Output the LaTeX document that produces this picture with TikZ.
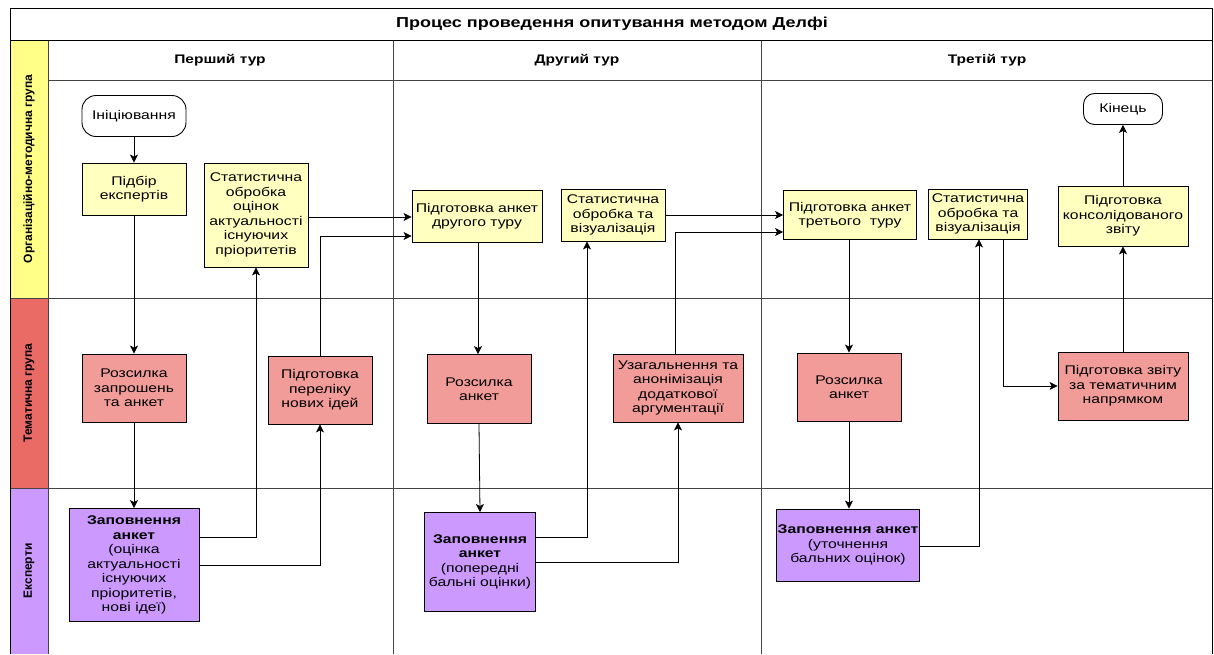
\documentclass[tikz,border=0pt]{standalone}
\usepackage{fontspec}
\setmainfont{Liberation Sans}[FakeStretch=1.25]
\newfontfamily\lanefont{Liberation Sans}
\usetikzlibrary{arrows.meta}

\definecolor{orglane}{HTML}{FFFF88}
\definecolor{temlane}{HTML}{EA6B66}
\definecolor{explane}{HTML}{CC99FF}
\definecolor{orgfill}{HTML}{FFFFC0}
\definecolor{temfill}{HTML}{F19C99}
\definecolor{expfill}{HTML}{CC99FF}
\definecolor{gridline}{HTML}{444444}

\tikzset{
  base/.style={draw=black, line width=0.9pt, align=center, inner sep=1pt,
    font=\fontsize{12.6}{14.5}\selectfont},
  orgbox/.style={base, fill=orgfill},
  tembox/.style={base, fill=temfill},
  expbox/.style={base, fill=expfill},
  termbox/.style={base, fill=white, rounded corners=14pt},
  lanelabel/.style={rotate=90, font=\lanefont\bfseries\fontsize{12}{14}\selectfont},
  colhead/.style={font=\bfseries\fontsize{12.4}{14}\selectfont},
  arr/.style={line width=0.8pt, -{Stealth[length=8pt,width=8pt,inset=2pt]}},
}

\begin{document}
\begin{tikzpicture}[x=1pt,y=-1pt]
\useasboundingbox (0,0) rectangle (1214,654);

% lane bands
\fill[orglane] (10,40) rectangle (48,298);
\fill[temlane] (10,298) rectangle (48,488);
\fill[explane] (10,488) rectangle (48,654);

% frame and grid
\draw[gridline, line width=0.8pt] (48,80) -- (1212,80);
\draw[gridline, line width=0.8pt] (10,298) -- (1212,298);
\draw[gridline, line width=0.8pt] (10,488) -- (1212,488);
\draw[gridline, line width=0.8pt] (48,40) -- (48,654);
\draw[gridline, line width=0.8pt] (393,40) -- (393,654);
\draw[gridline, line width=0.8pt] (761,40) -- (761,654);
\draw[black, line width=0.9pt] (10,40) -- (1212,40);
\draw[black, line width=0.9pt] (10,654) -- (10,8) -- (1212,8) -- (1212,654);

% title, headers, lanes
\node[font=\bfseries\fontsize{14.4}{16}\selectfont] (title) at (612,24) {Процес проведення опитування методом Делфі};
\node[colhead] (tur1) at (220,60) {Перший тур};
\node[colhead] (tur2) at (577,60) {Другий тур};
\node[colhead] (tur3) at (987,60) {Третій тур};
\node[lanelabel] (lane1) at (29,169) {Організаційно-методична група};
\node[lanelabel] (lane2) at (29,393) {Тематична група};
\node[lanelabel] (lane3) at (29,571) {Експерти};

% first round
\node[termbox, minimum width=104pt, minimum height=41pt] (init) at (134,116) {Ініціювання};
\node[orgbox, minimum width=104pt, minimum height=52pt] (pidbir) at (134,189) {Підбір\\експертів};
\node[orgbox, minimum width=104pt, minimum height=104pt] (stat1) at (256,215) {Статистична\\обробка\\оцінок\\актуальності\\існуючих\\пріоритетів};
\node[tembox, minimum width=104pt, minimum height=68pt] (rozs1) at (134,388) {Розсилка\\запрошень\\та анкет};
\node[tembox, minimum width=104pt, minimum height=68pt] (ideas) at (320,390) {Підготовка\\переліку\\нових ідей};
\node[expbox, minimum width=130pt, minimum height=113pt] (fill1) at (134,565) {\textbf{Заповнення}\\\textbf{анкет}\\(оцінка\\актуальності\\існуючих\\пріоритетів,\\нові ідеї)};

% second round
\node[orgbox, minimum width=130pt, minimum height=52pt] (anket2) at (477,216) {Підготовка анкет\\другого туру};
\node[orgbox, minimum width=104pt, minimum height=52pt] (stat2) at (613,215) {Статистична\\обробка та\\візуалізація};
\node[tembox, minimum width=104pt, minimum height=69pt] (rozs2) at (479,389) {Розсилка\\анкет};
\node[tembox, minimum width=130pt, minimum height=68pt] (gen) at (678,388) {Узагальнення та\\анонімізація\\додаткової\\аргументації};
\node[expbox, minimum width=111pt, minimum height=99pt] (fill2) at (480,562) {\textbf{Заповнення}\\\textbf{анкет}\\(попередні\\бальні оцінки)};

% third round
\node[orgbox, minimum width=133pt, minimum height=49pt] (anket3) at (850,215) {Підготовка анкет\\третього~~туру};
\node[orgbox, minimum width=99pt, minimum height=50pt] (stat3) at (978,214) {Статистична\\обробка та\\візуалізація};
\node[orgbox, minimum width=130pt, minimum height=60pt] (cons) at (1123,216) {Підготовка\\консолідованого\\звіту};
\node[termbox, minimum width=79pt, minimum height=31pt, rounded corners=11pt] (kinec) at (1123,109) {Кінець};
\node[tembox, minimum width=104pt, minimum height=68pt] (rozs3) at (849,387) {Розсилка\\анкет};
\node[tembox, minimum width=130pt, minimum height=68pt] (rep) at (1123,386) {Підготовка звіту\\за тематичним\\напрямком};
\node[expbox, minimum width=143pt, minimum height=72pt] (fill3) at (848,545) {\textbf{Заповнення анкет}\\(уточнення\\бальних оцінок)};

% connectors
\draw[arr] (init) -- (pidbir);
\draw[arr] (pidbir) -- (rozs1);
\draw[arr] (rozs1) -- (fill1);
\draw[arr] (fill1.east |- 0,537) -| (stat1.south);
\draw[arr] (fill1.east) -| (ideas.south);
\draw[arr] (ideas.north) |- (anket2.west |- 0,236);
\draw[arr] (stat1.east |- 0,217) -- (anket2.west |- 0,217);

\draw[arr] (anket2.south -| 478,0) -- (rozs2.north -| 478,0);
\draw[arr] (rozs2.south -| 479,0) -- (fill2.north -| 480,0);
\draw[arr] (fill2.east |- 0,537) -| (stat2.south -| 587,0);
\draw[arr] (fill2.east) -| (gen.south);
\draw[arr] (gen.north -| 675,0) |- (anket3.west |- 0,232);
\draw[arr] (stat2.east) -- (anket3.west |- stat2.east);

\draw[arr] (anket3.south -| 849,0) -- (rozs3.north);
\draw[arr] (rozs3.south) -- (fill3.north -| rozs3.south);
\draw[arr] (fill3.east |- 0,546) -| (stat3.south -| 979,0);
\draw[arr] (stat3.south -| 1003,0) |- (rep.west);
\draw[arr] (rep.north) -- (cons.south);
\draw[arr] (cons.north) -- (kinec.south);

\end{tikzpicture}
\end{document}
